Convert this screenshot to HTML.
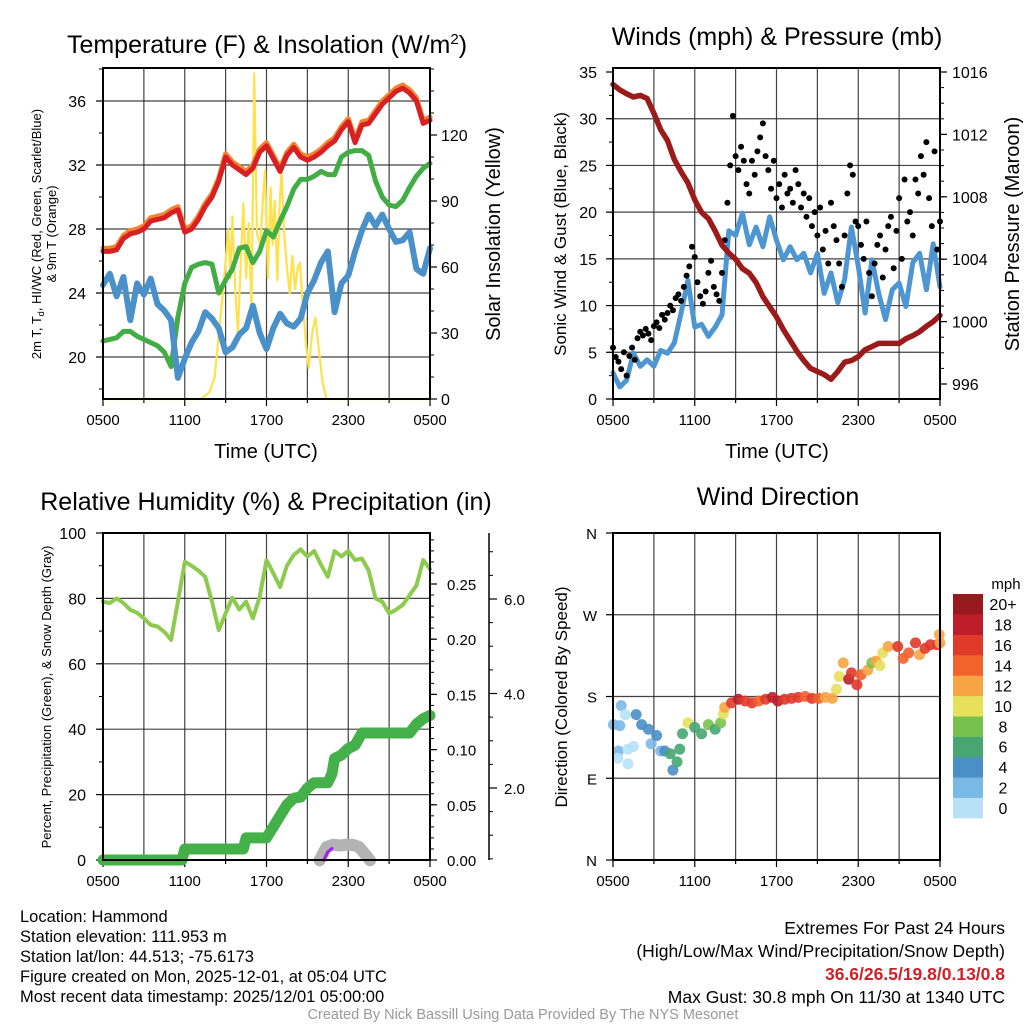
<!DOCTYPE html>
<html><head><meta charset="utf-8"><style>
html,body{margin:0;padding:0;background:#fff;}
svg{display:block;font-family:"Liberation Sans",sans-serif;}
</style></head><body>
<svg id="fig" width="1024" height="1024" viewBox="0 0 1024 1024" xmlns="http://www.w3.org/2000/svg">
<rect width="1024" height="1024" fill="#fff"/>
<g id="layer"></g>
<text x="267" y="53" font-size="25" text-anchor="middle">Temperature (F) &amp; Insolation (W/m<tspan dy="-9" font-size="15">2</tspan><tspan dy="9">)</tspan></text>
<text x="777" y="45" font-size="25" text-anchor="middle">Winds (mph) &amp; Pressure (mb)</text>
<text x="266" y="510" font-size="25" text-anchor="middle">Relative Humidity (%) &amp; Precipitation (in)</text>
<text x="778" y="505" font-size="25" text-anchor="middle">Wind Direction</text>
<text x="266" y="458" font-size="20" text-anchor="middle">Time (UTC)</text>
<text x="777" y="458" font-size="20" text-anchor="middle">Time (UTC)</text>
<g transform="translate(41,234) rotate(-90)"><text x="0" y="0" font-size="13" text-anchor="middle">2m T, T<tspan font-size="9" dy="3">d</tspan><tspan dy="-3">, HI/WC (Red, Green, Scarlet/Blue)</tspan></text><text x="0" y="15" font-size="13" text-anchor="middle">&amp; 9m T (Orange)</text></g>
<text transform="translate(500,234) rotate(-90)" font-size="20" text-anchor="middle">Solar Insolation (Yellow)</text>
<text transform="translate(566,234) rotate(-90)" font-size="17" text-anchor="middle">Sonic Wind &amp; Gust (Blue, Black)</text>
<text transform="translate(1019,234) rotate(-90)" font-size="20" text-anchor="middle">Station Pressure (Maroon)</text>
<text transform="translate(51,697) rotate(-90)" font-size="13" text-anchor="middle">Percent, Precipitation (Green), &amp; Snow Depth (Gray)</text>
<text transform="translate(567,697) rotate(-90)" font-size="17" text-anchor="middle">Direction (Colored By Speed)</text>
<g font-size="16.5">
<text x="20" y="922">Location: Hammond</text>
<text x="20" y="942">Station elevation: 111.953 m</text>
<text x="20" y="962">Station lat/lon: 44.513; -75.6173</text>
<text x="20" y="982">Figure created on Mon, 2025-12-01, at 05:04 UTC</text>
<text x="20" y="1002">Most recent data timestamp: 2025/12/01 05:00:00</text>
</g>
<g font-size="17.5" text-anchor="end">
<text x="1005" y="934">Extremes For Past 24 Hours</text>
<text x="1005" y="957">(High/Low/Max Wind/Precipitation/Snow Depth)</text>
<text x="1005" y="980" fill="#cc2229" font-weight="bold">36.6/26.5/19.8/0.13/0.8</text>
<text x="1005" y="1003">Max Gust: 30.8 mph On 11/30 at 1340 UTC</text>
</g>
<text x="523" y="1019" font-size="14.5" fill="#999" text-anchor="middle">Created By Nick Bassill Using Data Provided By The NYS Mesonet</text>
</svg>
<script>
// ---- data (hours since 0500 UTC) ----
const halfHours=[0,0.5,1,1.5,2,2.5,3,3.5,4,4.5,5,5.5,6,6.5,7,7.5,8,8.5,9,9.5,10,10.5,11,11.5,12,12.5,13,13.5,14,14.5,15,15.5,16,16.5,17,17.5,18,18.5,19,19.5,20,20.5,21,21.5,22,22.5,23,23.5,24];
const tempF=[26.6,26.6,26.7,27.4,27.7,27.8,28.0,28.5,28.6,28.7,29.0,29.2,27.8,28.0,28.6,29.4,30.0,31.0,32.5,32.0,31.7,31.4,31.8,32.8,33.2,32.4,31.6,32.6,33.1,32.5,32.3,32.5,32.8,33.2,33.5,34.2,34.7,33.4,34.5,34.6,35.2,35.8,36.2,36.6,36.8,36.5,36.0,34.6,34.8];
const temp9mF=[26.8,26.8,26.9,27.6,27.9,28.0,28.2,28.7,28.8,28.9,29.2,29.4,28.0,28.2,28.8,29.6,30.2,31.2,32.7,32.2,31.9,31.6,32.0,33.0,33.4,32.6,31.8,32.8,33.3,32.7,32.5,32.7,33.0,33.4,33.7,34.4,34.9,33.6,34.7,34.8,35.4,36.0,36.4,36.8,37.0,36.7,36.2,34.8,35.0];
const dewF=[21.0,21.1,21.2,21.6,21.6,21.3,21.1,20.9,20.7,20.3,19.4,22.5,24.6,25.6,25.8,25.9,25.8,24.0,24.8,25.5,26.8,26.9,25.9,26.6,27.9,27.5,28.5,29.4,30.5,31.1,31.1,31.3,31.6,31.4,31.4,32.5,32.8,32.9,32.9,32.6,31.0,30.0,29.5,29.4,29.8,30.6,31.3,31.8,32.1];
const chillF=[24.5,25.2,23.8,25.0,22.3,24.6,23.9,24.9,23.3,22.9,22.3,18.7,19.9,20.9,21.6,22.8,22.4,21.8,20.3,20.6,21.4,21.8,23.2,21.5,20.5,21.8,22.7,22.1,21.9,22.4,24.0,24.8,25.9,26.6,22.8,24.6,25.1,26.6,27.9,28.9,28.2,28.9,28.0,27.2,27.3,27.8,25.5,25.2,26.8];
const solarT=[0,7.2,7.8,8.2,8.6,8.8,9.2,9.35,9.5,9.7,9.9,10.1,10.3,10.5,10.7,10.9,11.1,11.3,11.55,11.75,11.9,12.1,12.3,12.45,12.6,12.8,12.95,13.1,13.3,13.5,13.7,13.9,14.1,14.3,14.45,14.7,14.9,15.1,15.35,15.6,15.8,16.1,16.4,24];
const solarW=[0,0,3,10,36,48,77,55,83,50,30,60,89,55,80,40,148,75,70,92,104,55,96,70,90,54,86,104,75,60,48,65,50,60,62,40,25,14,30,37,25,8,0,0];
const pressMb=[1015.2,1014.85,1014.6,1014.4,1014.5,1014.3,1013.35,1012.3,1011.6,1010.4,1009.6,1008.9,1007.8,1007.0,1006.6,1005.8,1004.9,1004.4,1004.0,1003.4,1003.1,1002.5,1001.6,1000.95,1000.3,999.5,998.8,998.1,997.5,997.0,996.8,996.6,996.3,996.8,997.4,997.5,997.75,998.2,998.4,998.6,998.6,998.6,998.6,998.9,999.1,999.35,999.7,1000.0,1000.4];
const windMph=[2.8,1.3,2.0,4.9,3.5,4.2,3.5,5.2,4.9,6.0,9.2,12.7,7.7,8.0,6.7,7.7,9.0,18.0,17.5,19.9,16.5,18.4,16.3,19.5,17.0,14.9,16.3,14.9,15.6,13.5,15.6,11.3,13.5,10.3,12.8,18.4,14.2,9.2,14.9,11.3,8.5,11.7,12.4,9.9,14.6,15.6,11.7,16.6,12.0];
const gustMph=[5.5,4.5,4.0,3.2,5.0, 2.5,4.6,5.5,4.2,6.5, 7.2,6.8,7.5,7.0,6.3, 7.8,8.2,7.6,9.0,8.5, 9.2,10.0,9.5,10.8,11.2, 10.5,12.0,13.2,14.2,16.3, 15.2,12.5,11.0,10.2,11.5, 13.5,14.8,12.0,11.2,10.5, 13.5,17.0,21.0,25.0,30.3, 26.0,24.5,27.0,25.5,23.0, 22.0,25.5,24.0,26.5,28.0, 29.5,26.0,24.5,22.5,25.5, 21.5,23.0,20.5,24.0,22.0, 22.5,21.0,24.5,23.0,20.5, 22.0,19.5,21.5,18.5,20.0, 17.5,20.5,16.0,18.0,14.5, 21.0,18.5,17.0,14.5,12.0, 17.5,22.0,25.0,24.0,19.0, 18.5,16.5,15.0,19.0,13.5, 11.0,14.5,16.5,17.5,13.0, 16.0,18.5,19.5,14.0,18.0, 21.5,15.0,23.5,19.0,20.0, 17.5,23.5,22.0,26.0,24.0, 27.5,21.5,18.5,26.5,16.0, 19.0];
const rhPct=[79.0,78.6,80.0,78.6,76.5,75.6,73.9,71.9,71.4,69.8,67.3,79.0,91.2,90.0,88.5,86.6,79.0,70.3,75.4,80.2,76.6,79.0,73.9,80.5,91.7,87.7,83.5,90.0,93.3,95.0,92.8,94.5,90.3,86.6,94.5,92.8,94.5,91.7,92.2,88.5,80.0,79.0,75.4,76.5,78.0,81.0,83.9,91.7,89.0];
const precipT=[0,5.8,6.0,10.3,10.5,12.0,12.5,13.0,13.5,14.0,14.5,15.0,15.5,16.5,16.8,17.0,17.5,18.0,18.5,19.0,22.5,23.0,23.5,24];
const precipIn=[0,0,0.01,0.01,0.02,0.02,0.03,0.04,0.05,0.056,0.057,0.065,0.07,0.07,0.078,0.092,0.095,0.101,0.104,0.115,0.115,0.123,0.128,0.131];
const snowT=[15.9,16.4,16.9,17.4,17.8,18.3,18.8,19.6];
const snowIn=[0.47,0.75,0.8,0.78,0.8,0.8,0.75,0.47];
const snow2T=[16.2,16.5,16.8];
const snow2In=[0.47,0.65,0.72];
const dirT=[0.03,0.6,0.5,0.9,0.4,0.35,1.1,1.1,1.5,1.7,2.1,2.6,2.8,3.2,3.5,3.8,4.2,4.4,4.7,4.9,5.1,5.5,6.0,6.5,7.0,7.5,7.9,8.1,8.2,8.7,9.2,9.7,10.2,10.7,11.2,11.7,12.1,12.6,13.1,13.6,14.1,14.6,15.1,15.6,16.1,16.4,16.6,16.9,17.3,17.5,17.9,18.2,18.7,19.0,19.3,19.6,19.8,20.2,20.9,21.3,21.7,22.2,22.5,22.9,23.3,23.8,24.0,23.95];
const dirDeg=[149,170,148,160,120,112,122,106,125,160,149,144,128,137,120,120,117,99,108,122,139,151,146,139,149,144,151,161,168,173,177,175,173,175,177,179,175,177,178,179,180,178,178,179,178,188,202,217,199,206,193,204,209,217,219,214,228,235,235,222,228,239,226,233,237,237,239,248];
const dirSpd=[2,2,2,0,2,0,0,0,1,4,4,4,3,4,3,4,6,4,6,6,6,11,7,7,8,7,8,10,12,16,19,17,16,15,16,19,18,16,17,16,15,16,14,13,13,10,10,12,19,17,17,14,13,8,12,10,10,12,16,14,15,17,13,16,17,16,12,12];
const xTickLabels=["0500","1100","1700","2300","0500"];
const tempTicks=[20,24,28,32,36];
const solarTicks=[0,30,60,90,120];
const windTicks=[0,5,10,15,20,25,30,35];
const pressTicks=[996,1000,1004,1008,1012,1016];
const rhTicks=[0,20,40,60,80,100];
const precipTicks=[0,0.05,0.10,0.15,0.20,0.25];
const snowTicks=[2,4,6];
const dirTicks=[0,90,180,270,360];
const dirLabels=["N","E","S","W","N"];
const cbLabels=["0","2","4","6","8","10","12","14","16","18","20+"];
const cbColors=["#b7e1f7","#7ab8e5","#4a8fc6","#48a672","#79c14d","#e6e05a","#f7a544","#f2622b","#e03a2b","#be1e29","#981a1e"];

const NS="http://www.w3.org/2000/svg";
const layer=document.getElementById('layer');
function mk(tag,attrs,parent){const e=document.createElementNS(NS,tag);for(const k in attrs)e.setAttribute(k,attrs[k]);(parent||layer).appendChild(e);return e;}
function lin(d0,d1,r0,r1){return v=>r0+(v-d0)*(r1-r0)/(d1-d0);}
function pathD(xs,ys,fx,fy){return xs.map((t,i)=>(i?'L':'M')+fx(t).toFixed(1)+','+fy(ys[i]).toFixed(1)).join('');}

function panel(name,x0,x1,y0,y1,fx){
  const g=mk('g',{});
  
  
  for(let h=3;h<24;h+=3){mk('line',{x1:fx(h),x2:fx(h),y1:y0,y2:y1,stroke:'#222','stroke-width':1.2,'stroke-opacity':0.85},g);}
  for(let h=0;h<=24;h+=3){mk('line',{x1:fx(h),x2:fx(h),y1:y1,y2:y1+(h%6==0?7:4),stroke:'#000','stroke-width':1.2},g);}
  xTickLabels.forEach((s,i)=>{const t=mk('text',{x:fx(i*6),y:y1+26,'font-size':15,'text-anchor':'middle'});t.textContent=s;
    
    });
  return g;
}
function frame(x0,x1,y0,y1){const r=mk('rect',{x:x0,y:y0,width:x1-x0,height:y1-y0,fill:'none',stroke:'#000','stroke-width':2});
  
  }
function hgrid(vals,fy,x0,x1){vals.forEach(v=>{const y=fy(v);mk('line',{x1:x0,x2:x1,y1:y,y2:y,stroke:'#222','stroke-width':1.2,'stroke-opacity':0.85});});}
function leftAxis(ticks,minor,fy,x0,lab,fmt){
  minor.forEach(v=>mk('line',{x1:x0-4,x2:x0,y1:fy(v),y2:fy(v),stroke:'#000'}));
  ticks.forEach(v=>{mk('line',{x1:x0-7,x2:x0,y1:fy(v),y2:fy(v),stroke:'#000','stroke-width':1.2});
    const t=mk('text',{x:lab,y:fy(v)+6,'font-size':16,'text-anchor':'end'});t.textContent=fmt?fmt(v):v;
    
    });
}
function rightAxis(ticks,minor,fy,x1,lab,fmt,fs){
  minor.forEach(v=>mk('line',{x1:x1,x2:x1+4,y1:fy(v),y2:fy(v),stroke:'#000'}));
  ticks.forEach(v=>{mk('line',{x1:x1,x2:x1+7,y1:fy(v),y2:fy(v),stroke:'#000','stroke-width':1.2});
    const t=mk('text',{x:lab,y:fy(v)+6,'font-size':fs||16});t.textContent=fmt?fmt(v):v;
    
    });
}
function range(a,b,s){const r=[];for(let v=a;v<=b+1e-9;v+=s)r.push(+v.toFixed(4));return r;}
function line(xs,ys,fx,fy,color,w,name){const p=mk('path',{d:pathD(xs,ys,fx,fy),fill:'none',stroke:color,'stroke-width':w,'stroke-linejoin':'round','stroke-linecap':'round'});
  
  return p;}

// ---------- Panel 1 ----------
const x1=lin(0,24,103,430), yT=lin(20,36,357,101), yS=lin(0,120,399,135);
panel('temperature',103,430,68,399,x1);
hgrid(tempTicks,yT,103,430);
leftAxis(tempTicks,range(18,38,2),yT,103,86);
rightAxis(solarTicks,range(0,150,10),yS,430,441);
line(solarT,solarW,x1,yS,'#ffe14d',2.2,'solar-insolation-line');
line(halfHours,dewF,x1,yT,'#43ad45',5,'dewpoint-line');
line(halfHours,chillF,x1,yT,'#4a90c9',6,'wind-chill-line');
line(halfHours,temp9mF,x1,yT,'#f5832e',5,'temp-9m-line');
line(halfHours,tempF,x1,yT,'#d62024',5,'temp-2m-line');
frame(103,430,68,399);

// ---------- Panel 2 ----------
const x2=lin(0,24,613,940), yW=lin(0,35,399,72), yP=lin(996,1016,384,72);
panel('winds',613,940,68,399,x2);
hgrid([5,10,15,20,25,30],yW,613,940);
leftAxis(windTicks,range(0,35,2.5),yW,613,597);
rightAxis(pressTicks,range(996,1016,1),yP,940,952);
line(halfHours,windMph,x2,yW,'#4e96d2',5,'sonic-wind-line');
gustMph.forEach((v,i)=>{const c=mk('circle',{cx:x2(i*0.2),cy:yW(v),r:3,fill:'#000'});
  
  });
line(halfHours,pressMb,x2,yP,'#9b1b1b',5.5,'pressure-line');
frame(613,940,68,399);

// ---------- Panel 3 ----------
const yR=lin(0,100,860,533), yPr=lin(0,0.25,860,584), ySn=lin(2,6,788,599);
panel('humidity',103,430,533,860,x1);
hgrid([20,40,60,80],yR,103,430);
leftAxis(rhTicks,range(0,100,10),yR,103,86);
rightAxis(precipTicks,range(0,0.29,0.01),yPr,430,447,v=>v.toFixed(2),15);
mk('line',{x1:489,x2:489,y1:533,y2:860,stroke:'#000','stroke-width':1.5});
range(0.5,7,0.5).forEach(v=>{const y=ySn(v);if(y>=533&&y<=860)mk('line',{x1:489,x2:493,y1:y,y2:y,stroke:'#000'});});
snowTicks.forEach(v=>{mk('line',{x1:489,x2:497,y1:ySn(v),y2:ySn(v),stroke:'#000','stroke-width':1.2});
  const t=mk('text',{x:504,y:ySn(v)+6,'font-size':15});t.textContent=v.toFixed(1);
  
  });
line(halfHours,rhPct,x1,yR,'#8dcb4e',4,'relative-humidity-line');
line(precipT,precipIn,x1,yPr,'#44b049',11,'precipitation-line');
line(snowT,snowIn,x1,ySn,'#b3b3b3',12,'snow-depth-line');
line(snow2T,snow2In,x1,ySn,'#a020f0',3,'snow-depth-alt-line');
frame(103,430,533,860);

// ---------- Panel 4 ----------
const yD=lin(0,360,860,533);
panel('direction',613,940,533,860,x2);
hgrid([90,180,270],yD,613,940);
dirTicks.forEach((v,i)=>{mk('line',{x1:606,x2:613,y1:yD(v),y2:yD(v),stroke:'#000','stroke-width':1.2});
  const t=mk('text',{x:597,y:yD(v)+6,'font-size':15,'text-anchor':'end'});t.textContent=dirLabels[i];
  
  });
function spdColor(s){return cbColors[Math.max(0,Math.min(10,Math.floor(s/2)))];}
dirDeg.forEach((d,i)=>{const c=mk('circle',{cx:x2(dirT[i]),cy:yD(d),r:5.5,fill:spdColor(dirSpd[i]),'fill-opacity':0.9});
  
  });
frame(613,940,533,860);
const cb=mk('g',{});


const cbH=(818-594)/11;
cbColors.forEach((c,i)=>{const y=818-(i+1)*cbH;mk('rect',{x:953,y:y,width:30,height:cbH+0.3,fill:c},cb);
  const t=mk('text',{x:1003,y:y+cbH/2+6,'font-size':16,'text-anchor':'middle'},cb);t.textContent=cbLabels[i];});
const mph=mk('text',{x:1006,y:589,'font-size':15,'text-anchor':'middle'},cb);mph.textContent='mph';
</script>
</body></html>
